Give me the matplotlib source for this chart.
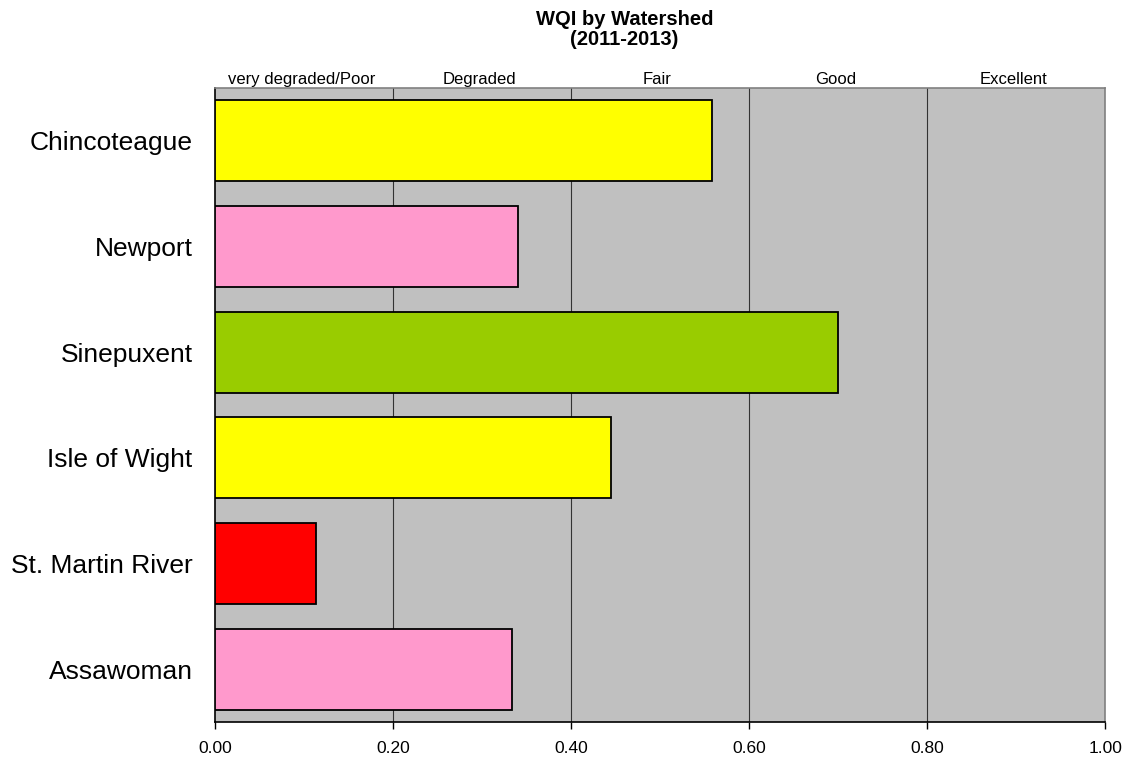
import matplotlib
matplotlib.use("Agg")
import matplotlib.pyplot as plt

plt.rcParams['font.family'] = ['Liberation Sans', 'DejaVu Sans']

# Data (top to bottom as shown)
watersheds = ['Chincoteague', 'Newport', 'Sinepuxent', 'Isle of Wight',
              'St. Martin River', 'Assawoman']
wqi = [0.558, 0.341, 0.700, 0.445, 0.114, 0.334]
bar_colors = ['#FFFF00', '#FF99CC', '#99CC00', '#FFFF00', '#FF0000', '#FF99CC']

classes = ['very degraded/Poor', 'Degraded', 'Fair', 'Good', 'Excellent']
class_edges = [0.0, 0.2, 0.4, 0.6, 0.8, 1.0]

fig = plt.figure(figsize=(11.29, 7.59), dpi=100)
ax = fig.add_axes([0.1904, 0.0487, 0.7884, 0.8354])
ax.set_facecolor('#C0C0C0')

ypos = list(range(len(watersheds)))[::-1]
ax.barh(ypos, wqi, height=1 / 1.3, color=bar_colors, edgecolor='black',
        linewidth=1.3, zorder=3)

ax.set_xlim(0, 1.0)
ax.set_ylim(-0.5, len(watersheds) - 0.5)
ax.set_xticks(class_edges)
ax.set_xticklabels([f'{v:.2f}' for v in class_edges], fontsize=12.5)
ax.set_yticks(ypos)
ax.set_yticklabels(watersheds, fontsize=19)
ax.tick_params(axis='y', length=0, pad=16)
ax.tick_params(axis='x', length=5, width=1, direction='out', pad=9)

for x in class_edges[1:-1]:
    ax.axvline(x, color='#333333', linewidth=0.8, zorder=1)

for side in ['top', 'right']:
    ax.spines[side].set_color('#808080')
    ax.spines[side].set_linewidth(1.2)
for side in ['left', 'bottom']:
    ax.spines[side].set_color('black')
    ax.spines[side].set_linewidth(1.2)

# class names above the plot
for i, name in enumerate(classes):
    mid = (class_edges[i] + class_edges[i + 1]) / 2
    ax.text(mid - 0.003, 1.002, name, transform=ax.get_xaxis_transform(),
            ha='center', va='bottom', fontsize=12)

fig.text(0.553, 0.987, 'WQI by Watershed\n(2011-2013)', ha='center', va='top',
         fontsize=14.5, fontweight='bold', linespacing=1.05)

fig.savefig('out.png', dpi=100)
